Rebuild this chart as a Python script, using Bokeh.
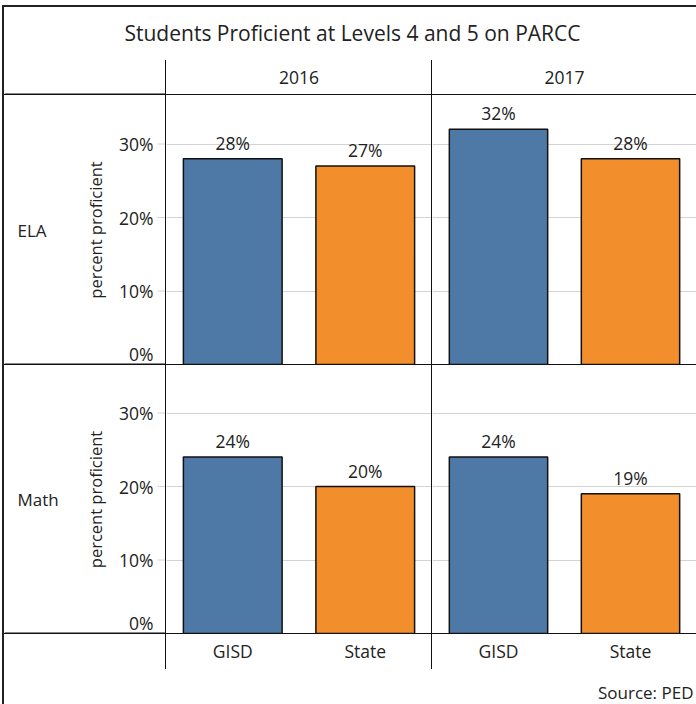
from bokeh.plotting import figure
from bokeh.layouts import row, column
from bokeh.models import Range1d, FactorRange, FixedTicker, ColumnDataSource, Grid, Spacer
from bokeh.core.properties import value
from bokeh.embed import file_html
from bokeh.resources import INLINE
import math

# ---------------- data ----------------
title_text = "Students Proficient at Levels 4 and 5 on PARCC"
years = ["2016", "2017"]
subjects = ["ELA", "Math"]
orgs = ["GISD", "State"]
ela_2016 = [0.28, 0.27]
ela_2017 = [0.32, 0.28]
math_2016 = [0.24, 0.20]
math_2017 = [0.24, 0.19]
bar_colors = ["#4E79A7", "#F28E2B"]
y_ticks = [0, 0.1, 0.2, 0.3]
y_tick_labels = ["0%", "10%", "20%", "30%"]
y_axis_title = "percent proficient"
source_note = "Source: PED"

FONT = "Open Sans"
TXT = "#222222"
LINE = "#111111"
GRID = "#d3d3d3"
FS = "17.5px"


def base(w, h, xr=None, yr=None):
    p = figure(width=w, height=h,
               x_range=xr if xr is not None else Range1d(0, w),
               y_range=yr if yr is not None else Range1d(0, h),
               toolbar_location=None, output_backend="svg", title=None,
               x_axis_location=None, y_axis_location=None,
               min_border_left=0, min_border_right=0, min_border_top=0, min_border_bottom=0)
    p.grid.visible = False
    p.outline_line_color = None
    p.background_fill_color = "white"
    p.border_fill_color = "white"
    return p


def txt(p, x, y, s, size, align="center", baseline="middle", angle=0, y_range_name="default"):
    p.text(x=[x], y=[y], text=[s], text_font=value(FONT), text_font_size=size,
           text_color=TXT, text_align=align, text_baseline=baseline, angle=angle,
           y_range_name=y_range_name)


def bar_line(w, h, color=LINE):
    return Spacer(width=w, height=h, styles={"background-color": color})


def bottom_rule(p, w, y_range_name="default"):
    # thicker part of the row separator under the left header column
    p.quad(left=[0], right=[w], bottom=[0], top=[1], fill_color=LINE, line_color=None,
           y_range_name=y_range_name)


def panel(w, h, vals, ymax):
    src = ColumnDataSource(dict(org=orgs, val=vals, color=bar_colors,
                                label=[f"{round(v * 100)}%" for v in vals]))
    p = base(w, h, xr=FactorRange(factors=orgs, range_padding=0), yr=Range1d(0, ymax))
    p.add_layout(Grid(dimension=1, ticker=FixedTicker(ticks=[t for t in y_ticks if t > 0]),
                      grid_line_color=GRID, grid_line_width=1))
    p.vbar(x="org", top="val", width=0.745, fill_color="color", line_color=LINE,
           line_width=1.5, source=src)
    p.text(x="org", y="val", text="label", source=src, y_offset=-4,
           text_font=value(FONT), text_font_size=FS, text_color=TXT,
           text_align="center", text_baseline="bottom")
    return p


def left_cell(w, h, ymax, subject):
    # y ticks drawn through the same value scale as the bar panels
    p = base(w, h, yr=Range1d(0, ymax))
    p.extra_y_ranges = {"px": Range1d(0, h)}
    tick_src = ColumnDataSource(dict(y=[t for t in y_ticks if t > 0],
                                     lab=[l for t, l in zip(y_ticks, y_tick_labels) if t > 0]))
    zero_src = ColumnDataSource(dict(y=[t for t in y_ticks if t == 0],
                                     lab=[l for t, l in zip(y_ticks, y_tick_labels) if t == 0]))
    p.segment(x0=w - 8, x1=w, y0="y", y1="y", source=tick_src, line_color=GRID, line_width=1)
    p.text(x=w - 12, y="y", text="lab", source=tick_src, text_font=value(FONT),
           text_font_size=FS, text_color=TXT, text_align="right", text_baseline="middle")
    p.text(x=w - 12, y="y", text="lab", source=zero_src, text_font=value(FONT),
           text_font_size=FS, text_color=TXT, text_align="right", text_baseline="bottom",
           y_offset=1)
    txt(p, 91, h / 2, y_axis_title, "16.5px", angle=math.pi / 2, y_range_name="px")
    txt(p, 13, h / 2, subject, "17px", align="left", y_range_name="px")
    bottom_rule(p, w, "px")
    return p


def header_fig(w, h, s):
    p = base(w, h)
    txt(p, w / 2, 17, s, FS)
    return p


def xlabel_fig(w, h):
    p = base(w, h, xr=FactorRange(factors=orgs, range_padding=0), yr=Range1d(0, h))
    p.text(x=orgs, y=[19] * len(orgs), text=orgs, text_font=value(FONT),
           text_font_size=FS, text_color=TXT, text_align="center", text_baseline="middle")
    return p


# ---------------- layout sizes ----------------
LW = 161            # left label / axis column
W1, W2 = 265, 264   # year panels
MW = LW + 1 + W1 + 1 + W2
H_TITLE, H_HEAD, H_ELA, H_MATH, H_BOT, H_SRC = 53, 34, 269, 268, 35, 35
YMAX_ELA, YMAX_MATH = H_ELA / 735, H_MATH / 735

title_f = base(MW, H_TITLE)
txt(title_f, 348, 28, title_text, "21px")

head_left = base(LW, H_HEAD)
bottom_rule(head_left, LW)
header_row = row(head_left, bar_line(1, H_HEAD), header_fig(W1, H_HEAD, years[0]),
                 bar_line(1, H_HEAD), header_fig(W2, H_HEAD, years[1]))

ela_row = row(left_cell(LW, H_ELA, YMAX_ELA, subjects[0]), bar_line(1, H_ELA),
              panel(W1, H_ELA, ela_2016, YMAX_ELA), bar_line(1, H_ELA),
              panel(W2, H_ELA, ela_2017, YMAX_ELA))
math_row = row(left_cell(LW, H_MATH, YMAX_MATH, subjects[1]), bar_line(1, H_MATH),
               panel(W1, H_MATH, math_2016, YMAX_MATH), bar_line(1, H_MATH),
               panel(W2, H_MATH, math_2017, YMAX_MATH))

bottom_row = row(base(LW, H_BOT), bar_line(1, H_BOT), xlabel_fig(W1, H_BOT),
                 bar_line(1, H_BOT), xlabel_fig(W2, H_BOT))

source_f = base(MW, H_SRC)
txt(source_f, MW - 3, 12, source_note, "17px", align="right")

main = column(title_f, header_row, bar_line(MW, 1), ela_row, bar_line(MW, 1),
              math_row, bar_line(MW, 1), bottom_row, source_f)
MH = H_TITLE + H_HEAD + 1 + H_ELA + 1 + H_MATH + 1 + H_BOT + H_SRC

framed = column(bar_line(MW + 2, 2, "#222222"), row(bar_line(2, MH, "#222222"), main))
layout = column(Spacer(width=MW + 4, height=5),
                row(Spacer(width=2, height=MH + 2), framed))

open("out.html", "w").write(file_html(layout, INLINE))
